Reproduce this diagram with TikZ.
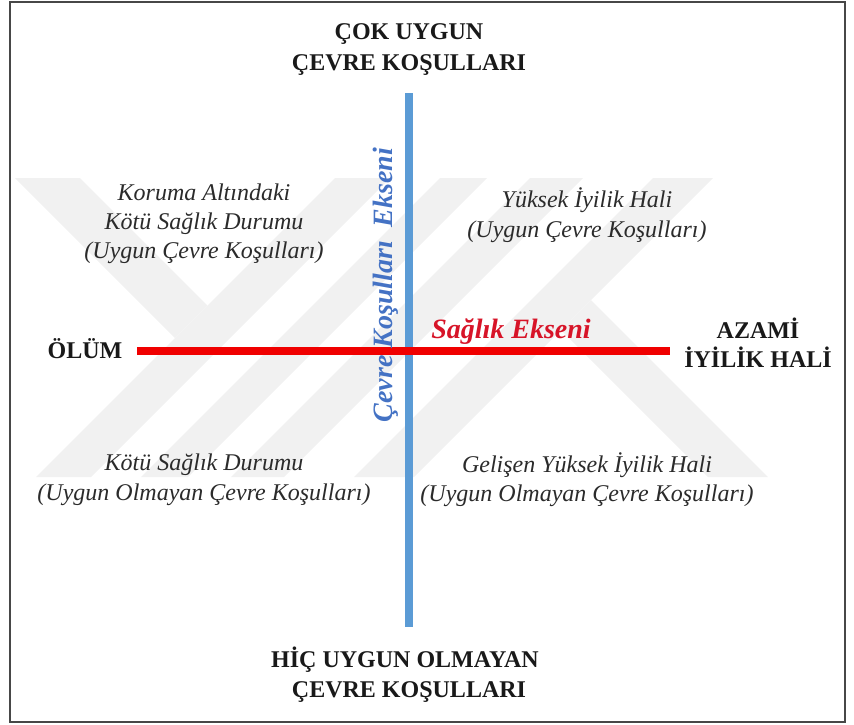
\documentclass[tikz,border=0pt]{standalone}
\usepackage{fontspec}
\setmainfont{Liberation Serif}
\definecolor{axisblue}{RGB}{91,155,213}
\definecolor{textblue}{RGB}{68,114,196}
\definecolor{axisred}{RGB}{240,0,0}
\definecolor{textred}{RGB}{215,20,40}
\definecolor{ink}{RGB}{25,25,25}
\definecolor{wmgray}{RGB}{241,241,241}
\tikzset{
  boldlbl/.style={font=\fontsize{24}{29}\selectfont\bfseries, text=ink, inner sep=0pt, anchor=base},
  itlbl/.style={font=\fontsize{24}{29}\selectfont\itshape, text=ink!92, inner sep=0pt, anchor=base},
  axislbl/.style={font=\fontsize{28}{32}\selectfont\bfseries\itshape, inner sep=0pt},
  wm/.style={fill=wmgray},
  frame/.style={draw=ink!80, line width=1.6pt},
}
\begin{document}
\begin{tikzpicture}[x=1pt,y=-1pt]
\useasboundingbox (0,0) rectangle (854,724);
% watermark (faint logo)
\begin{scope}
  \fill[wm] (335,178) -- (390,178) -- (91,477) -- (36,477) -- cycle;
  \fill[wm] (440,178) -- (487,178) -- (188,477) -- (141,477) -- cycle;
  \fill[wm] (530,178) -- (583,178) -- (284,477) -- (231,477) -- cycle;
  \fill[wm] (653,178) -- (713,178) -- (414,477) -- (354,477) -- cycle;
  \fill[wm] (15,178) -- (80,178) -- (207.5,305.5) -- (175,338) -- cycle;
  \fill[wm] (591,300) -- (768,477) -- (708,477) -- (561,330) -- cycle;
\end{scope}
% frame
\draw[frame] (10,2) rectangle (845,722);
% axes
\coordinate (vT) at (409,93);
\coordinate (vB) at (409,627);
\coordinate (hL) at (137,351);
\coordinate (hR) at (670,351);
\draw[axisblue, line width=8pt] (vT) -- (vB);
\draw[axisred, line width=8pt] (hL) -- (hR);
% axis labels
\node[axislbl, text=textblue, rotate=90] (vlab) at (386,285) {Çevre Koşulları\ \ Ekseni};
\node[axislbl, text=textred, anchor=base] (hlab) at (511,338) {Sağlık Ekseni};
% top / bottom
\node[boldlbl] (top1) at (409,39) {ÇOK UYGUN};
\node[boldlbl] (top2) at (409,70) {ÇEVRE KOŞULLARI};
\node[boldlbl] (bot1) at (405,667) {HİÇ UYGUN OLMAYAN};
\node[boldlbl] (bot2) at (409,697) {ÇEVRE KOŞULLARI};
% left / right
\node[boldlbl] (olum) at (85,358) {ÖLÜM};
\node[boldlbl] (azami1) at (758,338) {AZAMİ};
\node[boldlbl] (azami2) at (758,367) {İYİLİK HALİ};
% quadrants
\node[itlbl] (tl1) at (204,200) {Koruma Altındaki};
\node[itlbl] (tl2) at (204,229) {Kötü Sağlık Durumu};
\node[itlbl] (tl3) at (204,258) {(Uygun Çevre Koşulları)};
\node[itlbl] (tr1) at (587,207) {Yüksek İyilik Hali};
\node[itlbl] (tr2) at (587,237) {(Uygun Çevre Koşulları)};
\node[itlbl] (bl1) at (204,470) {Kötü Sağlık Durumu};
\node[itlbl] (bl2) at (204,500) {(Uygun Olmayan Çevre Koşulları)};
\node[itlbl] (br1) at (587,472) {Gelişen Yüksek İyilik Hali};
\node[itlbl] (br2) at (587,501) {(Uygun Olmayan Çevre Koşulları)};
\end{tikzpicture}
\end{document}
